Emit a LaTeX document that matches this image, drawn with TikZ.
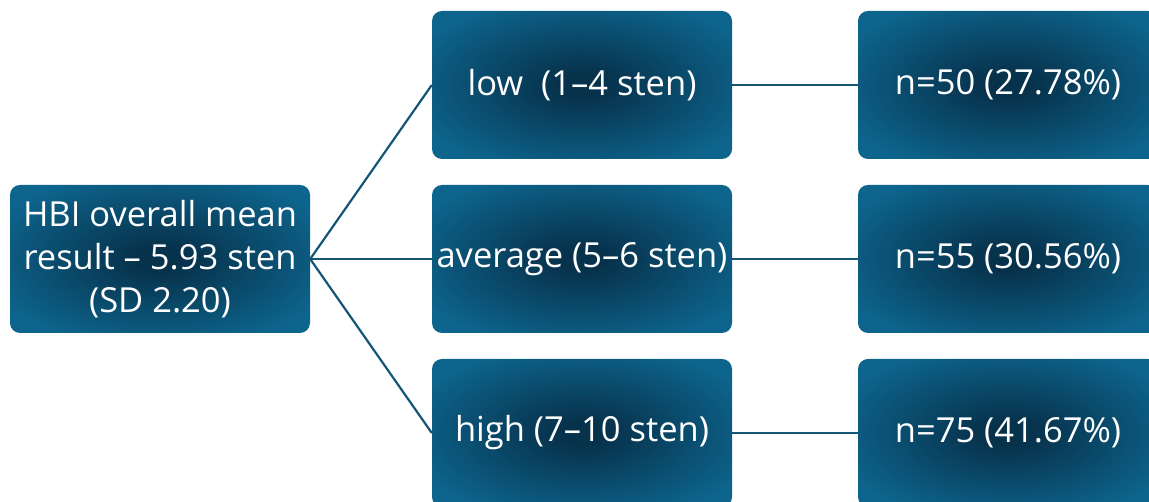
\documentclass[tikz,border=0pt]{standalone}
\usepackage{fontspec}
\setmainfont{Open Sans}
\definecolor{boxouter}{RGB}{13,100,140}
\definecolor{boxinner}{RGB}{7,50,76}
\definecolor{linkcol}{RGB}{22,86,117}
% soft glow from the middle of each box towards its rim
\pgfdeclareradialshading{boxglow}{\pgfpoint{0bp}{0bp}}{%
  color(0bp)=(boxinner); color(4bp)=(boxinner);
  color(30bp)=(boxouter); color(50bp)=(boxouter)}
\tikzset{
  box/.style={rounded corners=10pt, minimum width=300pt, minimum height=148pt,
    inner sep=0pt, shading=boxglow,
    text=white, align=center,
    font=\fontsize{34.5}{43}\selectfont},
  link/.style={draw=linkcol, line width=2.2pt}
}
\begin{document}
\begin{tikzpicture}[x=1pt,y=1pt]
\useasboundingbox (0,0) rectangle (1149,502);
\clip (0,0) rectangle (1149,502);
% root
\node[box] (root) at (160,243) {HBI overall mean\\result -- 5.93 sten\\(SD 2.20)};
% score bands
\node[box] (low) at (582,417) {low\ \ (1--4 sten)};
\node[box] (avg) at (582,243) {average (5--6 sten)};
\node[box] (high) at (582,69) {high (7--10 sten)};
% counts
\node[box] (nlow) at (1008,417) {n=50 (27.78\%)};
\node[box] (navg) at (1008,243) {n=55 (30.56\%)};
\node[box] (nhigh) at (1008,69) {n=75 (41.67\%)};
% connectors
\draw[link] (root.east) -- (low.west);
\draw[link] (root.east) -- (avg.west);
\draw[link] (root.east) -- (high.west);
\draw[link] (low.east) -- (nlow.west);
\draw[link] (avg.east) -- (navg.west);
\draw[link] (high.east) -- (nhigh.west);
\end{tikzpicture}
\end{document}
